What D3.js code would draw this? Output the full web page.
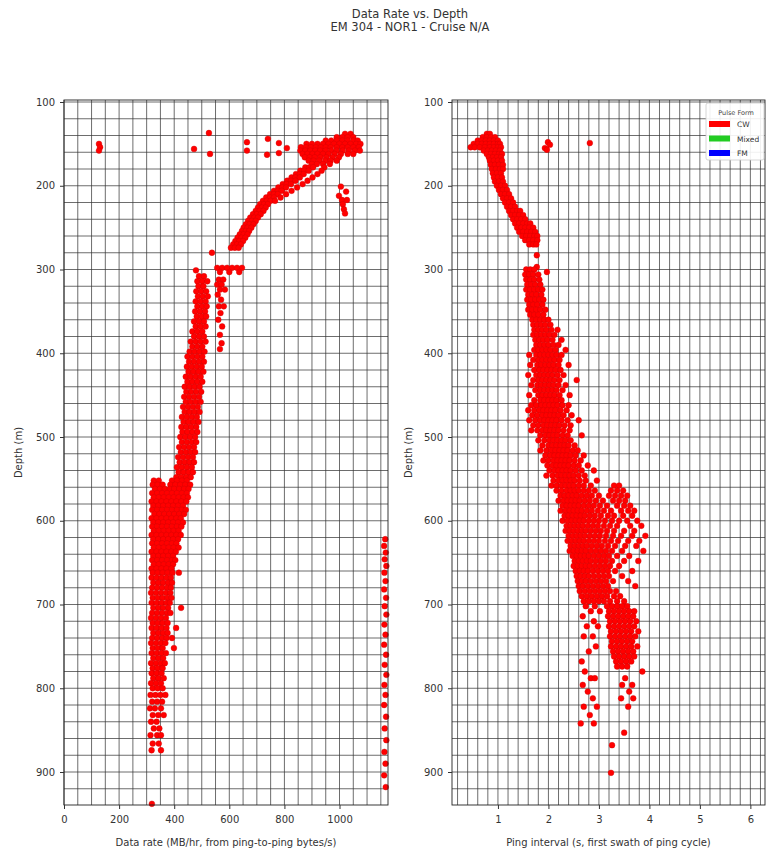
<!DOCTYPE html>
<html>
<head>
<meta charset="utf-8">
<script src="https://cdn.jsdelivr.net/npm/d3@7"></script>
<style>
body { margin: 0; background: #fff; }
svg { display: block; font-family: "DejaVu Sans", sans-serif; }
</style>
</head>
<body>
<svg id="chart" width="770" height="852"></svg>
<script>
// Data (rows are [depth, value, value, ...])
const TITLE = ['Data Rate vs. Depth', 'EM 304 - NOR1 - Cruise N/A'];
const DEPTH_TICKS = [100, 200, 300, 400, 500, 600, 700, 800, 900];
const RATE_TICKS = [0, 200, 400, 600, 800, 1000];
const INTERVAL_TICKS = [1, 2, 3, 4, 5, 6];
const LEGEND_TITLE = 'Pulse Form';
const LEGEND_ITEMS = [['CW', '#ff0000'], ['Mixed', '#22cc22'], ['FM', '#0000ff']];

// Left panel: data rate (MB/hr) vs depth
const rateOutliers = [
  [127, 150], [131, 154], [127, 158], [526, 137], [472, 156], [530, 162],
  [664, 148], [664, 158], [740, 144], [780, 149], [780, 161], [737, 163], [809, 155],
  [1005, 201], [1024, 207], [998, 212], [1009, 217], [1027, 217], [1012, 222], [1016, 228], [1020, 233],
  [537, 280], [479, 301]
];
const rateBlobRows = [
  [138, 1020, 1040],
  [142, 990, 1010, 1030, 1050],
  [146, 950, 970, 990, 1010, 1030, 1050, 1066],
  [150, 880, 900, 920, 940, 960, 980, 1000, 1020, 1040, 1060, 1076],
  [154, 860, 878, 896, 914, 932, 950, 968, 990, 1010, 1030, 1050, 1070],
  [158, 858, 876, 894, 912, 930, 950, 970, 990, 1012, 1034, 1056, 1074],
  [162, 866, 884, 902, 920, 940, 960, 982, 1005, 1030, 1050],
  [166, 874, 892, 910, 930, 952, 975, 998],
  [170, 888, 906, 926, 948, 968, 990],
  [174, 900, 918, 940, 965]
];
const rateBandRows = [
  [178, 876, 890, 904, 945],
  [182, 858, 872, 888, 935],
  [186, 842, 856, 870, 920],
  [190, 826, 840, 856, 902],
  [194, 810, 824, 840, 884],
  [198, 794, 808, 824, 866],
  [202, 778, 792, 806, 846],
  [206, 762, 776, 790, 826],
  [210, 748, 762, 776, 806],
  [214, 734, 748, 762, 786],
  [218, 722, 736, 750, 766],
  [222, 712, 726, 740],
  [226, 704, 718, 732],
  [230, 696, 710, 724],
  [234, 686, 700, 714],
  [238, 676, 690, 704],
  [242, 668, 682, 696],
  [246, 660, 674, 688],
  [250, 652, 666, 680],
  [254, 646, 660, 672],
  [258, 638, 652, 666],
  [262, 630, 644, 658],
  [266, 622, 636, 650],
  [270, 614, 628, 642],
  [274, 606, 620, 634],
  [298, 556, 574, 592, 610, 628, 646],
  [303, 566, 600, 636]
];
const rateBranchRows = [
  [312, 562, 578], [318, 556, 572], [324, 566, 584], [330, 558], [336, 570],
  [344, 562, 580], [352, 568], [360, 560], [368, 574], [378, 566], [388, 572], [395, 566],
  [308, 490, 508],
  [314, 484, 502, 520],
  [320, 488, 506],
  [326, 480, 498, 516],
  [332, 486, 504, 522],
  [338, 478, 496, 514],
  [344, 484, 502, 518],
  [350, 476, 494, 512],
  [356, 482, 500, 516],
  [362, 472, 490, 508],
  [368, 478, 496, 514],
  [374, 466, 484, 502],
  [380, 472, 490, 508],
  [386, 460, 478, 496, 514],
  [392, 466, 484, 502],
  [398, 456, 474, 492, 510],
  [404, 448, 466, 484, 502],
  [410, 454, 472, 490, 508],
  [416, 446, 464, 482, 500],
  [422, 452, 470, 488, 506],
  [428, 442, 460, 478, 496],
  [434, 448, 466, 484, 502],
  [440, 438, 456, 474, 492],
  [446, 444, 462, 480, 498],
  [452, 436, 454, 472, 490],
  [458, 442, 460, 478, 496],
  [464, 432, 450, 468, 486],
  [470, 438, 456, 474, 492],
  [476, 428, 446, 464, 482],
  [482, 434, 452, 470, 488],
  [488, 426, 444, 462, 480],
  [494, 430, 448, 466, 484],
  [500, 422, 440, 458, 476],
  [506, 428, 446, 464, 480],
  [512, 418, 436, 454, 472],
  [518, 424, 442, 460, 476],
  [524, 414, 432, 450, 468],
  [530, 420, 438, 456, 472],
  [536, 410, 428, 446, 464],
  [542, 416, 434, 452, 468],
  [548, 408, 426, 444, 460]
];
const rateColumnRows = [
  [552, 326, 344, 392, 410, 428, 446],
  [557, 322, 340, 358, 386, 404, 422, 440, 458],
  [562, 330, 348, 366, 384, 400, 418, 436, 452],
  [567, 320, 338, 356, 374, 392, 410, 428, 446],
  [572, 326, 344, 362, 380, 398, 416, 434, 450],
  [577, 318, 336, 354, 372, 390, 408, 426, 444],
  [582, 324, 342, 360, 378, 396, 414, 432],
  [587, 320, 338, 356, 374, 392, 410, 428, 442],
  [592, 328, 346, 364, 382, 400, 418, 436],
  [597, 318, 336, 354, 372, 390, 408, 424],
  [602, 324, 342, 360, 378, 396, 414, 432],
  [607, 320, 338, 356, 374, 392, 410, 426],
  [612, 326, 344, 362, 380, 398, 416],
  [617, 318, 336, 354, 372, 390, 408, 424],
  [622, 324, 342, 360, 378, 396, 414],
  [627, 320, 338, 356, 374, 392, 408],
  [632, 326, 344, 362, 380, 398, 416],
  [637, 318, 336, 354, 372, 390, 406],
  [642, 324, 342, 360, 378, 396],
  [647, 320, 338, 356, 374, 392, 404],
  [652, 326, 344, 362, 380, 396],
  [657, 318, 336, 354, 372, 390],
  [662, 322, 340, 358, 376, 394, 417],
  [668, 318, 336, 354, 372, 388],
  [674, 324, 342, 360, 378, 392],
  [680, 320, 338, 356, 374, 388],
  [686, 316, 334, 352, 370, 386],
  [692, 322, 340, 358, 376, 390],
  [698, 318, 336, 354, 372, 384],
  [704, 324, 342, 360, 378, 425],
  [710, 320, 338, 356, 374, 386],
  [716, 316, 334, 352, 370],
  [722, 322, 340, 358, 376],
  [728, 318, 336, 354, 372, 407],
  [734, 324, 342, 360, 376],
  [740, 320, 338, 356, 372, 392],
  [746, 316, 334, 352, 368],
  [752, 322, 340, 358, 399],
  [758, 318, 336, 354, 370],
  [764, 324, 342, 360],
  [770, 316, 334, 352, 366],
  [776, 322, 340, 358],
  [782, 318, 336, 354],
  [788, 324, 342, 362],
  [794, 316, 334, 352],
  [800, 322, 340, 358],
  [808, 314, 332, 350, 368],
  [816, 320, 338, 356],
  [824, 312, 330, 352],
  [832, 322, 342, 362],
  [840, 316, 336],
  [848, 326, 346],
  [856, 314, 338, 352],
  [866, 322, 344],
  [874, 318, 352],
  [938, 319]
];
const rateEdge = [
  [1166, 622], [1162, 630], [1168, 638], [1164, 646], [1170, 654], [1163, 662],
  [1167, 672], [1162, 682], [1169, 692], [1164, 702], [1170, 712], [1163, 724],
  [1167, 736], [1162, 748], [1169, 760], [1164, 772], [1170, 784], [1163, 796],
  [1167, 808], [1162, 820], [1169, 834], [1164, 848], [1170, 862], [1163, 876],
  [1167, 890], [1162, 904], [1168, 918]
];

// Right panel: ping interval (s) vs depth
const intervalOutliers = [
  [1.99, 148], [1.93, 155], [2.03, 151], [1.97, 157], [2.82, 149],
  [1.77, 283], [1.97, 303], [1.77, 297]
];
const intervalTopRows = [
  [138, 0.78, 0.84],
  [142, 0.70, 0.78, 0.86, 0.94],
  [146, 0.60, 0.68, 0.76, 0.84, 0.92, 1.00],
  [150, 0.52, 0.60, 0.68, 0.76, 0.84, 0.92, 1.00, 1.04],
  [154, 0.46, 0.54, 0.64, 0.74, 0.84, 0.92, 1.00, 1.06],
  [158, 0.72, 0.80, 0.88, 0.96, 1.04],
  [162, 0.78, 0.86, 0.94, 1.02, 1.08],
  [166, 0.82, 0.90, 0.98, 1.06],
  [170, 0.84, 0.92, 1.00, 1.08],
  [175, 0.86, 0.94, 1.02, 1.10],
  [180, 0.88, 0.96, 1.04, 1.10],
  [185, 0.90, 0.98, 1.06],
  [190, 0.92, 1.00, 1.08],
  [195, 0.94, 1.02, 1.10],
  [200, 0.98, 1.06, 1.14],
  [205, 1.02, 1.10, 1.18],
  [210, 1.06, 1.14, 1.22],
  [215, 1.10, 1.18, 1.26],
  [220, 1.14, 1.22, 1.30],
  [225, 1.18, 1.26, 1.34],
  [230, 1.22, 1.30, 1.38, 1.44],
  [235, 1.26, 1.34, 1.42, 1.50],
  [240, 1.30, 1.38, 1.46, 1.54],
  [245, 1.34, 1.42, 1.50, 1.58, 1.64],
  [250, 1.38, 1.46, 1.54, 1.62, 1.70],
  [255, 1.42, 1.50, 1.58, 1.66, 1.74],
  [260, 1.48, 1.56, 1.64, 1.72, 1.78],
  [265, 1.54, 1.62, 1.70, 1.78],
  [270, 1.62, 1.70, 1.76]
];
const intervalCloudRows = [
  [300, 1.56, 1.64, 1.72],
  [306, 1.54, 1.62, 1.70, 1.80],
  [312, 1.56, 1.64, 1.72, 1.82],
  [318, 1.58, 1.66, 1.74, 1.84],
  [324, 1.56, 1.64, 1.72, 1.80, 1.88],
  [330, 1.60, 1.68, 1.76, 1.86],
  [336, 1.58, 1.66, 1.74, 1.82, 1.90],
  [342, 1.62, 1.70, 1.78, 1.88],
  [348, 1.60, 1.68, 1.76, 1.84, 1.94],
  [354, 1.64, 1.72, 1.80, 1.90],
  [360, 1.68, 1.76, 1.84, 1.92, 2.00],
  [366, 1.70, 1.78, 1.86, 1.94, 2.04],
  [372, 1.72, 1.80, 1.88, 1.96, 2.06, 2.18],
  [378, 1.70, 1.78, 1.86, 1.94, 2.02, 2.12],
  [384, 1.74, 1.82, 1.90, 1.98, 2.08, 2.26],
  [390, 1.76, 1.84, 1.92, 2.00, 2.10, 2.20],
  [396, 1.72, 1.80, 1.88, 1.96, 2.04, 2.14, 2.34],
  [402, 1.62, 1.76, 1.84, 1.92, 2.00, 2.08, 2.16, 2.26],
  [408, 1.70, 1.80, 1.88, 1.96, 2.04, 2.12, 2.22],
  [414, 1.64, 1.78, 1.86, 1.94, 2.02, 2.10, 2.20, 2.40],
  [420, 1.72, 1.82, 1.90, 1.98, 2.06, 2.14, 2.24],
  [426, 1.60, 1.76, 1.84, 1.92, 2.00, 2.08, 2.18, 2.30],
  [432, 1.70, 1.80, 1.88, 1.96, 2.04, 2.12, 2.22, 2.56],
  [438, 1.66, 1.78, 1.86, 1.94, 2.02, 2.10, 2.20, 2.34],
  [444, 1.74, 1.84, 1.92, 2.00, 2.08, 2.16, 2.28],
  [450, 1.62, 1.80, 1.88, 1.96, 2.04, 2.12, 2.22, 2.42],
  [456, 1.72, 1.84, 1.92, 2.00, 2.08, 2.16, 2.26],
  [462, 1.66, 1.76, 1.86, 1.94, 2.02, 2.10, 2.18, 2.28, 2.40],
  [468, 1.60, 1.72, 1.82, 1.90, 1.98, 2.06, 2.14, 2.24, 2.36],
  [474, 1.68, 1.78, 1.88, 1.96, 2.04, 2.12, 2.20, 2.30, 2.46],
  [480, 1.62, 1.74, 1.84, 1.92, 2.00, 2.08, 2.16, 2.26, 2.38, 2.60],
  [486, 1.70, 1.80, 1.90, 1.98, 2.06, 2.14, 2.22, 2.32, 2.44],
  [492, 1.66, 1.78, 1.88, 1.96, 2.04, 2.12, 2.20, 2.30, 2.42],
  [498, 1.84, 1.94, 2.02, 2.10, 2.18, 2.28, 2.38, 2.66],
  [504, 1.80, 1.92, 2.02, 2.10, 2.18, 2.26, 2.34, 2.44],
  [510, 1.88, 2.00, 2.08, 2.16, 2.24, 2.32, 2.40, 2.52],
  [516, 1.84, 1.96, 2.06, 2.14, 2.22, 2.30, 2.38, 2.48, 2.58],
  [522, 1.94, 2.04, 2.12, 2.20, 2.28, 2.36, 2.44, 2.54, 2.70],
  [528, 1.90, 2.00, 2.10, 2.18, 2.26, 2.34, 2.42, 2.52, 2.64],
  [534, 1.98, 2.08, 2.16, 2.24, 2.32, 2.40, 2.50, 2.60, 2.78],
  [540, 2.02, 2.12, 2.20, 2.28, 2.36, 2.44, 2.54, 2.66, 2.90],
  [546, 1.96, 2.08, 2.18, 2.26, 2.34, 2.42, 2.50, 2.60, 2.72],
  [552, 2.10, 2.20, 2.28, 2.36, 2.44, 2.52, 2.62, 2.74, 2.96],
  [558, 2.06, 2.16, 2.26, 2.34, 2.42, 2.50, 2.60, 2.70, 2.84, 3.30, 3.40],
  [564, 2.16, 2.26, 2.36, 2.44, 2.52, 2.60, 2.70, 2.80, 2.92, 3.24, 3.36, 3.48],
  [570, 2.24, 2.32, 2.40, 2.48, 2.56, 2.66, 2.76, 2.86, 3.00, 3.20, 3.32, 3.44, 3.56],
  [576, 2.20, 2.30, 2.38, 2.46, 2.54, 2.62, 2.72, 2.82, 2.94, 3.08, 3.28, 3.40, 3.52],
  [582, 2.28, 2.36, 2.44, 2.52, 2.60, 2.70, 2.80, 2.90, 3.02, 3.16, 3.36, 3.50, 3.62],
  [588, 2.24, 2.34, 2.42, 2.50, 2.58, 2.66, 2.76, 2.86, 2.98, 3.10, 3.24, 3.44, 3.58, 3.70],
  [594, 2.32, 2.40, 2.48, 2.56, 2.64, 2.72, 2.82, 2.92, 3.04, 3.18, 3.30, 3.48, 3.66],
  [600, 2.28, 2.38, 2.46, 2.54, 2.62, 2.70, 2.80, 2.90, 3.00, 3.12, 3.26, 3.40, 3.56, 3.76],
  [606, 2.36, 2.44, 2.52, 2.60, 2.68, 2.78, 2.88, 2.98, 3.10, 3.22, 3.36, 3.62, 3.84],
  [612, 2.34, 2.42, 2.50, 2.58, 2.66, 2.74, 2.84, 2.94, 3.04, 3.16, 3.30, 3.50, 3.70],
  [618, 2.40, 2.48, 2.56, 2.64, 2.72, 2.82, 2.92, 3.02, 3.14, 3.28, 3.44, 3.66, 3.92],
  [624, 2.38, 2.46, 2.54, 2.62, 2.70, 2.80, 2.90, 3.00, 3.12, 3.24, 3.38, 3.58, 3.80],
  [630, 2.44, 2.52, 2.60, 2.68, 2.76, 2.86, 2.96, 3.06, 3.18, 3.32, 3.52, 3.74],
  [636, 2.42, 2.50, 2.58, 2.66, 2.74, 2.84, 2.94, 3.04, 3.14, 3.26, 3.46, 3.88],
  [642, 2.48, 2.56, 2.64, 2.72, 2.80, 2.90, 3.00, 3.10, 3.20, 3.36, 3.60],
  [648, 2.52, 2.60, 2.68, 2.76, 2.84, 2.94, 3.04, 3.14, 3.26, 3.50, 3.78],
  [654, 2.50, 2.58, 2.66, 2.74, 2.82, 2.92, 3.02, 3.12, 3.22, 3.40],
  [660, 2.54, 2.62, 2.70, 2.78, 2.88, 2.98, 3.08, 3.18, 3.32, 3.66],
  [666, 2.56, 2.64, 2.72, 2.80, 2.90, 3.00, 3.10, 3.20, 3.46],
  [672, 2.58, 2.66, 2.74, 2.84, 2.94, 3.04, 3.14, 3.28, 3.58],
  [678, 2.60, 2.68, 2.78, 2.88, 2.98, 3.08, 3.18, 3.72],
  [684, 2.62, 2.72, 2.82, 2.92, 3.02, 3.12, 3.22, 3.34],
  [690, 2.66, 2.76, 2.86, 2.96, 3.06, 3.16, 3.30, 3.42],
  [696, 2.70, 2.80, 2.90, 3.00, 3.10, 3.22, 3.36, 3.50],
  [702, 2.74, 2.92, 3.16, 3.26, 3.36, 3.46, 3.56],
  [708, 2.84, 3.02, 3.20, 3.30, 3.40, 3.50, 3.60, 3.70],
  [714, 2.68, 3.18, 3.28, 3.38, 3.48, 3.58, 3.68],
  [720, 2.90, 3.22, 3.32, 3.42, 3.52, 3.62, 3.74],
  [726, 2.76, 2.98, 3.20, 3.30, 3.40, 3.50, 3.60, 3.70],
  [732, 3.24, 3.34, 3.44, 3.54, 3.64, 3.78],
  [738, 2.70, 2.88, 3.22, 3.32, 3.42, 3.52, 3.62, 3.72],
  [744, 3.26, 3.36, 3.46, 3.56, 3.66],
  [750, 2.94, 3.24, 3.34, 3.44, 3.54, 3.64, 3.76],
  [756, 2.80, 3.28, 3.38, 3.48, 3.58, 3.68],
  [762, 3.30, 3.40, 3.50, 3.60, 3.70],
  [768, 2.66, 3.34, 3.44, 3.54, 3.64],
  [774, 3.36, 3.46, 3.56],
  [780, 2.72, 3.86],
  [788, 2.84, 2.92, 3.52],
  [796, 2.68, 3.46, 3.66],
  [804, 2.78, 3.60],
  [812, 2.88, 3.44, 3.68],
  [822, 2.70, 2.96, 3.58],
  [832, 2.82],
  [842, 2.64, 2.90],
  [853, 3.50],
  [868, 3.26],
  [901, 3.24]
];

// Helpers
const fromRows = rows => rows.flatMap(r => r.slice(1).map(v => [v, r[0]]));

const ratePoints = [
  ...rateOutliers,
  ...fromRows(rateBlobRows),
  ...fromRows(rateBandRows),
  ...fromRows(rateBranchRows),
  ...fromRows(rateColumnRows),
  ...rateEdge
];
const intervalPoints = [
  ...intervalOutliers,
  ...fromRows(intervalTopRows),
  ...fromRows(intervalCloudRows)
];

// Layout
const svg = d3.select('#chart');
const plotTop = 100, plotBottom = 805;
const y = d3.scaleLinear().domain([97.6, 939.4]).range([plotTop, plotBottom]);
const yMinor = d3.range(100, 921, 20);

const panels = [
  {
    x0: 64, x1: 388, domain: [0, 1176], ticks: RATE_TICKS, minor: d3.range(0, 1151, 50),
    xlabel: 'Data rate (MB/hr, from ping-to-ping bytes/s)', labelX: 19, points: ratePoints
  },
  {
    x0: 452, x1: 765, domain: [0.09, 6.29], ticks: INTERVAL_TICKS, minor: d3.range(0.2, 6.21, 0.2),
    xlabel: 'Ping interval (s, first swath of ping cycle)', labelX: 409, points: intervalPoints
  }
];

svg.selectAll('text.title')
  .data(TITLE)
  .join('text')
  .attr('class', 'title')
  .attr('x', 410)
  .attr('y', (d, i) => 18 + i * 13)
  .attr('text-anchor', 'middle')
  .attr('fill', '#333')
  .style('font-size', '11.5px')
  .text(d => d);

for (const p of panels) {
  const x = d3.scaleLinear().domain(p.domain).range([p.x0, p.x1]);
  const g = svg.append('g');

  // Grid
  const grid = g.append('g')
    .attr('stroke', '#333')
    .attr('stroke-width', 0.9)
    .attr('stroke-opacity', 0.8);
  grid.selectAll('line.v').data(p.minor).join('line')
    .attr('class', 'v')
    .attr('x1', d => x(d)).attr('x2', d => x(d))
    .attr('y1', plotTop).attr('y2', plotBottom);
  grid.selectAll('line.h').data(yMinor).join('line')
    .attr('class', 'h')
    .attr('x1', p.x0).attr('x2', p.x1)
    .attr('y1', d => y(d)).attr('y2', d => y(d));

  // Points
  g.append('g').selectAll('circle').data(p.points).join('circle')
    .attr('cx', d => x(d[0]))
    .attr('cy', d => y(d[1]))
    .attr('r', 2.9)
    .attr('fill', '#ff0000')
    .attr('stroke', '#d00000')
    .attr('stroke-width', 0.4);

  // Frame
  g.append('rect')
    .attr('x', p.x0).attr('y', plotTop)
    .attr('width', p.x1 - p.x0).attr('height', plotBottom - plotTop)
    .attr('fill', 'none').attr('stroke', '#222').attr('stroke-width', 0.9);

  // Axes
  const gx = g.append('g')
    .attr('transform', `translate(0,${plotBottom})`)
    .call(d3.axisBottom(x).tickValues(p.ticks).tickSize(4).tickPadding(7).tickFormat(d3.format('d')));
  const gy = g.append('g')
    .attr('transform', `translate(${p.x0},0)`)
    .call(d3.axisLeft(y).tickValues(DEPTH_TICKS).tickSize(4).tickPadding(5).tickFormat(d3.format('d')));
  for (const ax of [gx, gy]) {
    ax.select('.domain').remove();
    ax.selectAll('text').attr('fill', '#333').style('font-size', '10px').style('font-family', '"DejaVu Sans", sans-serif');
    ax.selectAll('line').attr('stroke', '#333');
  }

  svg.append('text')
    .attr('x', (p.x0 + p.x1) / 2)
    .attr('y', 846)
    .attr('text-anchor', 'middle')
    .attr('fill', '#333')
    .style('font-size', '10px')
    .text(p.xlabel);

  svg.append('text')
    .attr('transform', `translate(${p.labelX + 3},${(plotTop + plotBottom) / 2}) rotate(-90)`)
    .attr('text-anchor', 'middle')
    .attr('fill', '#333')
    .style('font-size', '10px')
    .text('Depth (m)');
}

// Legend
const lg = svg.append('g').attr('transform', 'translate(706,103)');
lg.append('rect')
  .attr('width', 58).attr('height', 57)
  .attr('rx', 2)
  .attr('fill', '#fff').attr('fill-opacity', 0.9)
  .attr('stroke', '#ccc').attr('stroke-width', 0.8);
lg.append('text')
  .attr('x', 30).attr('y', 12)
  .attr('text-anchor', 'middle')
  .attr('fill', '#444')
  .style('font-size', '6.5px')
  .text(LEGEND_TITLE);
const items = lg.selectAll('g.item').data(LEGEND_ITEMS).join('g')
  .attr('class', 'item')
  .attr('transform', (d, i) => `translate(3,${18 + i * 14.5})`);
items.append('rect').attr('width', 21).attr('height', 6).attr('fill', d => d[1]);
items.append('text')
  .attr('x', 28).attr('y', 6)
  .attr('fill', '#333')
  .style('font-size', '7.5px')
  .text(d => d[0]);
</script>
</body>
</html>
